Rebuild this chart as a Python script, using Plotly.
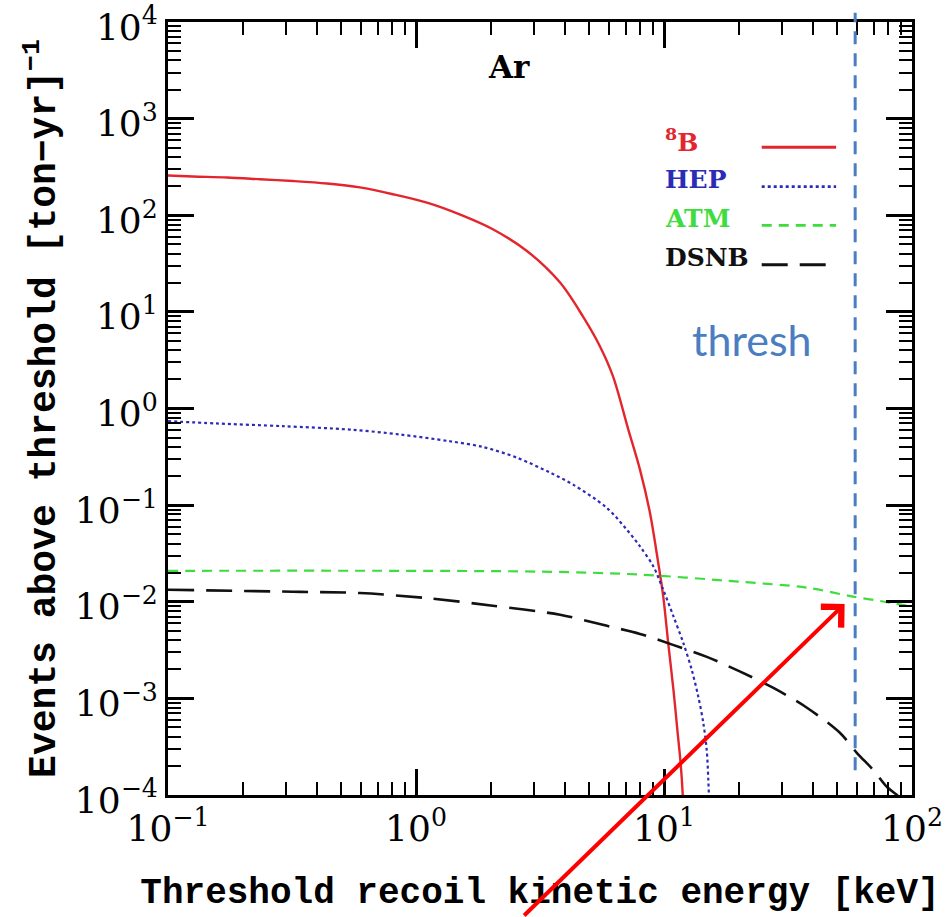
import math
import plotly.graph_objects as go

# ---------------- data ----------------
b8_E = [0.1, 0.126, 0.173, 0.235, 0.319, 0.438, 0.594, 0.807, 1.107, 1.50, 2.04, 2.80, 3.81,
        4.71, 5.52, 6.23, 7.18, 8.0, 8.78, 9.48, 9.93, 10.40, 10.92, 11.32, 11.67, 11.89, 12.1]
b8_N = [258, 252, 246, 236, 226, 213, 194, 165, 135, 102, 71.6, 42.7, 20.1,
        8.98, 4.39, 2.15, 0.605, 0.233, 0.083, 0.0252, 0.01135, 0.00373, 0.00122, 4.72e-4,
        2.13e-4, 1.05e-4, 3e-5]

hep_E = [0.1, 0.157, 0.291, 0.542, 0.861, 1.37, 1.86, 2.55, 3.47, 4.30, 5.87, 7.08, 8.0, 9.06,
         9.93, 10.92, 11.97, 12.94, 13.75, 14.41, 14.87, 15.09, 15.25]
hep_N = [0.74, 0.700, 0.656, 0.605, 0.538, 0.458, 0.40, 0.31, 0.217, 0.163, 0.094, 0.0557, 0.0374,
         0.0232, 0.0133, 0.00705, 0.00373, 0.00197, 0.00104, 5.53e-4, 2.92e-4, 1.43e-4, 7e-5]

atm_E = [0.1, 3.16, 8.0, 20.2, 37.7, 57.8, 81.5, 100]
atm_N = [0.0209, 0.0205, 0.0191, 0.0161, 0.0140, 0.0113, 0.0098, 0.00887]

dsnb_E = [0.1, 0.319, 0.594, 1.107, 2.04, 3.81, 5.89, 8.0, 10.87, 14.89, 20.2, 27.5, 37.7,
          51.3, 60.0, 69.7, 79.3, 87, 95]
dsnb_N = [0.0133, 0.0127, 0.0123, 0.0109, 0.0091, 0.00733, 0.00563, 0.00465, 0.00358, 0.00269,
          0.0019, 0.00129, 8.0e-4, 4.38e-4, 2.72e-4, 1.82e-4, 1.21e-4, 1.0e-4, 8.3e-5]

series_names = ["<sup>8</sup>B", "HEP", "ATM", "DSNB"]
series_colors = ["#e3262e", "#2b2bb8", "#3fdc3f", "#111111"]
series_dash = ["solid", "dot", "10px,7px", "26px,12px"]
series_width = [2.4, 2.2, 2.2, 2.6]

x_tickvals = [0.1, 1, 10, 100]
x_ticktext = ["10<sup>−1</sup>", "10<sup>0</sup>", "10<sup>1</sup>", "10<sup>2</sup>"]
y_tickvals = [1e-4, 1e-3, 1e-2, 1e-1, 1, 10, 100, 1e3, 1e4]
y_ticktext = ["10<sup>−4</sup>", "10<sup>−3</sup>", "10<sup>−2</sup>", "10<sup>−1</sup>",
              "10<sup>0</sup>", "10<sup>1</sup>", "10<sup>2</sup>", "10<sup>3</sup>", "10<sup>4</sup>"]

thresh_energy = 59.0          # keV, vertical dashed marker
arrow_tip = (53.5, 0.0095)    # keV, events

x_title = "<b>Threshold recoil kinetic energy [keV]</b>"
y_title = "<b>Events above threshold [ton−yr]<sup>−1</sup></b>"
panel_label = "<b>Ar</b>"
thresh_label = "thresh"

# ---------------- figure ----------------
fig = go.Figure()
data = [(b8_E, b8_N), (hep_E, hep_N), (atm_E, atm_N), (dsnb_E, dsnb_N)]
for (xs, ys), name, col, dash, w in zip(data, series_names, series_colors, series_dash, series_width):
    fig.add_trace(go.Scatter(x=xs, y=ys, mode="lines", name=name, showlegend=False,
                             line=dict(color=col, dash=dash, width=w, shape="spline", smoothing=0.9)))

def minor_vals(lo, hi):
    return [m * 10 ** k for k in range(lo, hi) for m in range(2, 10)]

axis_common = dict(
    type="log", showgrid=False, zeroline=False, showline=True, linecolor="black", linewidth=3,
    mirror="ticks", ticks="inside", ticklen=26, tickwidth=2.5, tickcolor="black",
    ticklabeloverflow="allow", automargin=False,
    tickfont=dict(family="DejaVu Serif", size=36, color="black"),
)

fig.update_layout(
    width=947, height=917,
    margin=dict(l=168, r=35, t=22, b=122, autoexpand=False),
    paper_bgcolor="white", plot_bgcolor="white",
    xaxis=dict(**axis_common, range=[-1, 2], tickmode="array", tickvals=x_tickvals, ticktext=x_ticktext,
               minor=dict(ticks="inside", ticklen=13, tickwidth=2.2, tickcolor="black",
                          tickmode="array", tickvals=minor_vals(-1, 2)),
               title=dict(text=x_title, standoff=30,
                          font=dict(family="Liberation Mono", size=36, color="black"))),
    yaxis=dict(**axis_common, range=[-4, 4], tickmode="array", tickvals=y_tickvals, ticktext=y_ticktext,
               ticklabelshift=5,
               minor=dict(ticks="inside", ticklen=13, tickwidth=2.2, tickcolor="black",
                          tickmode="array", tickvals=minor_vals(-4, 4)),
               title=dict(text=y_title, standoff=8,
                          font=dict(family="Liberation Mono", size=38, color="black"))),
)

# panel label
fig.add_annotation(text=panel_label, xref="paper", yref="paper", x=0.458, y=0.942,
                   xanchor="center", yanchor="middle", showarrow=False,
                   font=dict(family="DejaVu Serif", size=31, color="black"))

# custom legend: text on left, line sample on right
leg_y = [0.838, 0.787, 0.737, 0.686]
for name, col, dash, w, yy in zip(series_names, series_colors, series_dash, series_width, leg_y):
    fig.add_annotation(text="<b>" + name + "</b>", xref="paper", yref="paper", x=0.665, y=yy + 0.009,
                       xanchor="left", yanchor="middle", showarrow=False,
                       font=dict(family="DejaVu Serif", size=25, color=col))
    fig.add_shape(type="line", xref="paper", yref="paper", x0=0.798, x1=0.898, y0=yy, y1=yy,
                  line=dict(color=col, dash=dash, width=w + 0.5))

# threshold marker
fig.add_shape(type="line", xref="x", yref="paper", x0=thresh_energy, x1=thresh_energy,
              y0=0.032, y1=1.012, line=dict(color="#4a7ec0", width=3, dash="13px,9px"))
fig.add_annotation(text=thresh_label, xref="paper", yref="paper", x=0.785, y=0.589,
                   xanchor="center", yanchor="middle", showarrow=False,
                   font=dict(family="Lato", size=43, color="#4a7ec0"))

# red arrow
fig.add_annotation(x=math.log10(arrow_tip[0]), y=math.log10(arrow_tip[1]), xref="x", yref="y",
                   text="", showarrow=True, ax=-322, ay=318, axref="pixel", ayref="pixel",
                   arrowhead=4, arrowsize=1.4, arrowwidth=4, arrowcolor="#ff0000")

fig.write_html("out.html")
